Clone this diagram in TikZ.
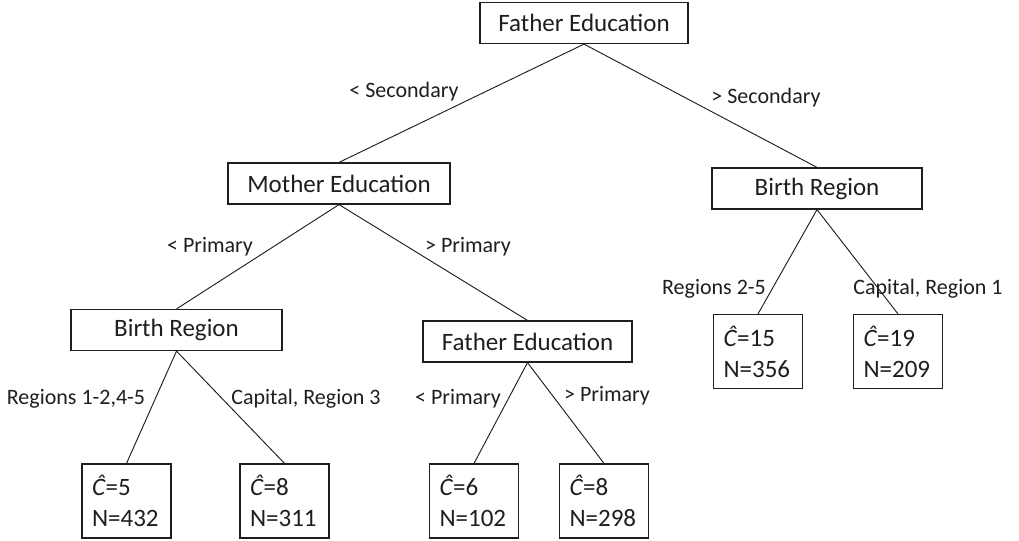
\documentclass[tikz,border=0pt]{standalone}
\usepackage{fontspec}
\setmainfont{Carlito}
\definecolor{ink}{RGB}{30,30,30}
\newcommand{\chat}{\textit{Ĉ}}
\begin{document}
\begin{tikzpicture}[x=0.75pt,y=-0.75pt,
  splitbox/.style={draw=ink, line width=0.9pt, inner sep=0pt,
    minimum height=30.75pt, text=ink,
    font=\fontsize{18.75}{22}\selectfont},
  leafbox/.style={draw=ink, line width=0.9pt, inner xsep=7.5pt, inner ysep=0pt,
    text width=51.75pt, minimum height=55.5pt, align=left, text=ink,
    font=\fontsize{18.75}{23.25}\selectfont},
  branch/.style={draw=ink, line width=0.7pt},
  lbl/.style={inner sep=0pt, text=ink, font=\fontsize{16.5}{20}\selectfont}]
  \useasboundingbox (0,0) rectangle (1019,540);

  % decision nodes
  \node[splitbox, minimum width=156pt]    (fe1) at (584,23)     {Father Education};
  \node[splitbox, minimum width=166.5pt]  (me)  at (339,183.5)  {Mother Education};
  \node[splitbox, minimum width=157.5pt]  (brR) at (817,188.5)  {Birth Region};
  \node[splitbox, minimum width=158.25pt] (brL) at (176.5,330)  {Birth Region};
  \node[splitbox, minimum width=156.75pt] (fe2) at (527.5,341.5){Father Education};

  % terminal nodes
  \node[leafbox] (l1) at (126.5,501)  {\chat=5\\N=432};
  \node[leafbox] (l2) at (284.5,501)  {\chat=8\\N=311};
  \node[leafbox] (l3) at (474,501)    {\chat=6\\N=102};
  \node[leafbox] (l4) at (604,501)    {\chat=8\\N=298};
  \node[leafbox] (l5) at (758,351.5)  {\chat=15\\N=356};
  \node[leafbox] (l6) at (898,351.5)  {\chat=19\\N=209};

  % branches
  \draw[branch] (fe1.south) -- (me.north);
  \draw[branch] (fe1.south) -- (brR.north);
  \draw[branch] (me.south) -- (brL.north);
  \draw[branch] (me.south) -- (fe2.north);
  \draw[branch] (brL.south) -- (l1.north);
  \draw[branch] (brL.south) -- (l2.north);
  \draw[branch] (fe2.south) -- (l3.north);
  \draw[branch] (fe2.south) -- (l4.north);
  \draw[branch] (brR.south) -- (l5.north);
  \draw[branch] (brR.south) -- (l6.north);

  % branch labels
  \node[lbl] (t1)  at (404,92)  {< Secondary};
  \node[lbl] (t2)  at (766,98)  {> Secondary};
  \node[lbl] (t3)  at (210,247) {< Primary};
  \node[lbl] (t4)  at (468,247) {> Primary};
  \node[lbl] (t5)  at (76,399)  {Regions 1-2,4-5};
  \node[lbl] (t6)  at (306,399) {Capital, Region 3};
  \node[lbl] (t7)  at (458,399) {< Primary};
  \node[lbl] (t8)  at (607,396) {> Primary};
  \node[lbl] (t9)  at (714,289) {Regions 2-5};
  \node[lbl] (t10) at (928,289) {Capital, Region 1};
\end{tikzpicture}
\end{document}
